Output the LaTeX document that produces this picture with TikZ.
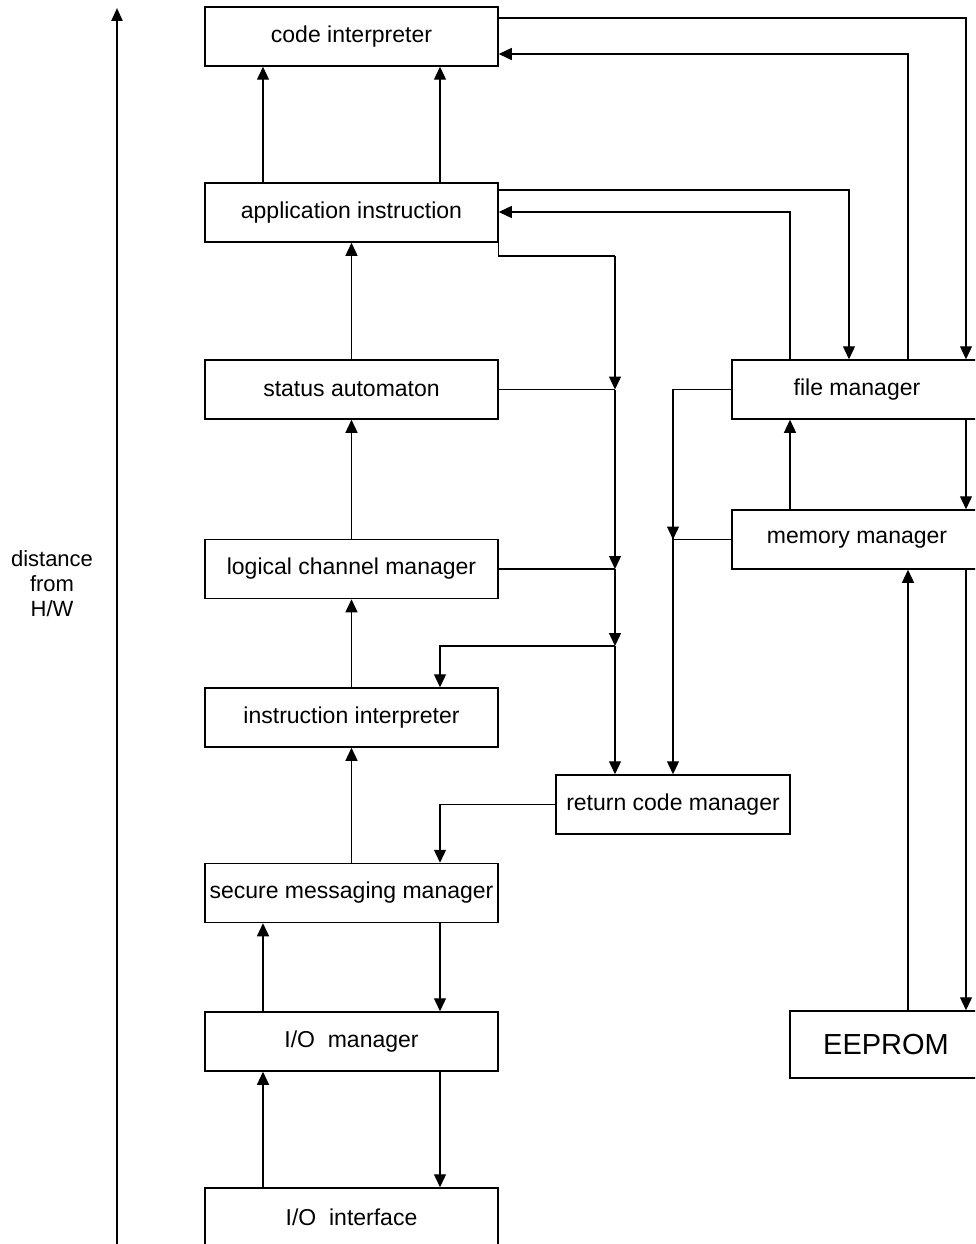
\documentclass[tikz,border=0pt]{standalone}
\usepackage{fontspec}
\setmainfont{Liberation Sans}
\usetikzlibrary{arrows.meta,calc}
\tikzset{
  blk/.style={draw, line width=1.5pt, minimum height=59pt, inner sep=0pt, font=\fontsize{23}{26}\selectfont},
  arr/.style={line width=1.3pt, -{Triangle[length=13pt,width=12pt]}},
  ln/.style={line width=1.3pt},
}
\begin{document}
\begin{tikzpicture}[x=1pt,y=-1pt]
\path[use as bounding box, clip] (0,0) rectangle (975,1244);

% left column
\node[blk, minimum width=293pt] (code) at (351.5,36.5) {code interpreter};
\node[blk, minimum width=293pt] (app) at (351.5,212.5) {application instruction};
\node[blk, minimum width=293pt] (stat) at (351.5,389.5) {status automaton};
\node[blk, minimum width=293pt] (logch) at (351.5,569) {logical channel manager};
\node[blk, minimum width=293pt] (interp) at (351.5,717.5) {instruction interpreter};
\node[blk, minimum width=293pt] (secm) at (351.5,893) {secure messaging manager};
\node[blk, minimum width=293pt] (iom) at (351.5,1041.5) {I/O\ \ manager};
\node[blk, minimum width=293pt] (iof) at (351.5,1217.5) {I/O\ \ interface};

% right column
\node[blk, minimum width=250pt] (fm) at (857,389.5) {file manager};
\node[blk, minimum width=250pt] (mm) at (857,539.5) {memory manager};
\node[blk, minimum width=234pt] (rcm) at (673,804.5) {return code manager};
\node[blk, minimum width=192pt, minimum height=67pt, font=\fontsize{29}{33}\selectfont] (eep) at (886,1044.5) {EEPROM};

% distance axis
\coordinate (axbot) at (117,1250);
\coordinate (axtop) at (117,8);
\draw[line width=2.4pt, -{Triangle[length=13pt,width=11pt]}] (axbot) -- (axtop);
\node[align=center, font=\fontsize{22}{25}\selectfont] (axlbl) at (52,584) {distance\\from\\H/W};

% upward chain
\draw[arr] (app.north -| 263,0) -- (code.south -| 263,0);
\draw[arr] (app.north -| 440,0) -- (code.south -| 440,0);
\draw[arr] (stat.north) -- (app.south);
\draw[arr] (logch.north) -- (stat.south);
\draw[arr] (interp.north) -- (logch.south);
\draw[arr] (secm.north) -- (interp.south);
\draw[arr] (iom.north -| 263,0) -- (secm.south -| 263,0);
\draw[arr] (secm.south -| 440,0) -- (iom.north -| 440,0);
\draw[arr] (iof.north -| 263,0) -- (iom.south -| 263,0);
\draw[arr] (iom.south -| 440,0) -- (iof.north -| 440,0);

% links to file manager
\draw[arr] (code.east |- 0,18) -| (fm.north -| 966,0);
\draw[arr] (fm.north -| 908,0) |- (code.east |- 0,54);
\draw[arr] (app.east |- 0,190) -| (fm.north -| 849,0);
\draw[arr] (fm.north -| 790,0) |- (app.east |- 0,212);

% return code bus
\coordinate (j1) at (stat.east -| 615,0);
\coordinate (j2) at (logch.east -| 615,0);
\coordinate (j3) at (615,646);
\draw[ln] (app.south east) |- (615,256);
\draw[arr] (615,256) -- (j1);
\draw[ln] (stat.east) -- (j1);
\draw[arr] (j1) -- (j2);
\draw[ln] (logch.east) -- (j2);
\draw[arr] (j2) -- (j3);
\draw[arr] (j3) -| (interp.north -| 440,0);
\draw[arr] (j3) -- (rcm.north -| 615,0);

\coordinate (j4) at (mm.west -| 673,0);
\draw[ln] (fm.west) -| (j4);
\draw[ln] (mm.west) -- (j4);
\draw[arr] (fm.west -| 673,0) -- (j4);
\draw[arr] (j4) -- (rcm.north);
\draw[arr] (rcm.west) -| (secm.north -| 440,0);

% file / memory / EEPROM
\draw[arr] (mm.north -| 790,0) -- (fm.south -| 790,0);
\draw[arr] (fm.south -| 966,0) -- (mm.north -| 966,0);
\draw[arr] (mm.south -| 966,0) -- (eep.north -| 966,0);
\draw[arr] (eep.north -| 908,0) -- (mm.south -| 908,0);

\end{tikzpicture}
\end{document}
